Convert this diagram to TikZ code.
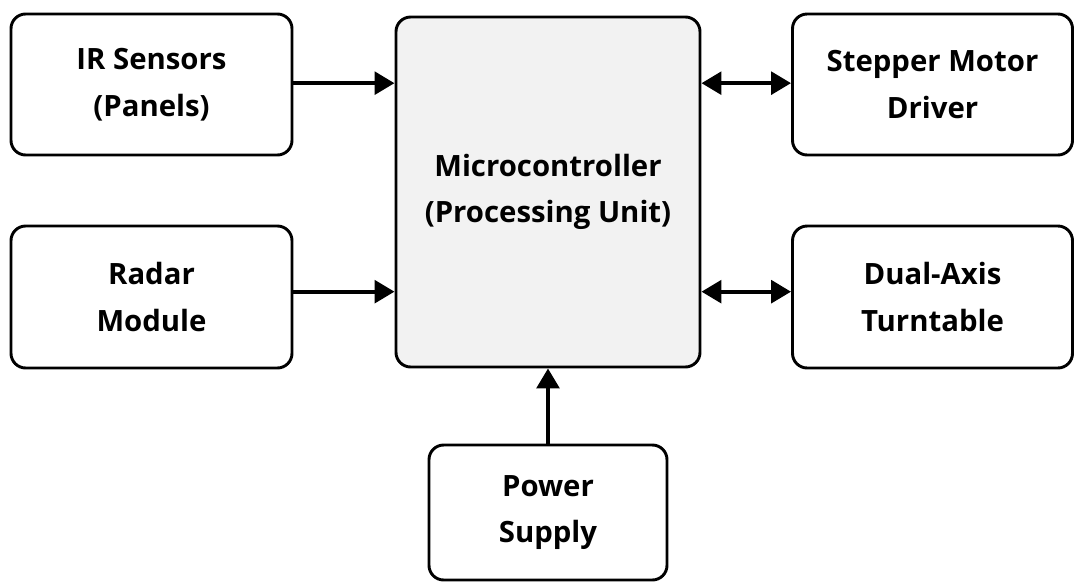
\documentclass[tikz,border=0pt]{standalone}
\usepackage{fontspec}
\setmainfont{Open Sans}
\usetikzlibrary{arrows.meta}
\begin{document}
\begin{tikzpicture}[x=0.75pt,y=-0.75pt,
  box/.style={draw=black,line width=2.2pt,rounded corners=11pt,fill=white,align=center,
    font=\fontsize{22}{35}\selectfont\bfseries,inner sep=0pt},
  arr/.style={line width=3pt,-{Triangle[length=15pt,width=17pt]}},
  darr/.style={line width=3pt,{Triangle[length=15pt,width=17pt]}-{Triangle[length=15pt,width=17pt]}}]
\useasboundingbox (0,0) rectangle (1074,583);
\node[box,minimum width=281*0.75pt,minimum height=141*0.75pt] (ir) at (151.5,84.5) {IR Sensors\\(Panels)};
\node[box,minimum width=281*0.75pt,minimum height=142*0.75pt] (radar) at (151.5,297) {Radar\\Module};
\node[box,fill={rgb,255:red,242;green,242;blue,242},minimum width=304*0.75pt,minimum height=350*0.75pt] (mcu) at (548,192) {Microcontroller\\(Processing Unit)};
\node[box,minimum width=280*0.75pt,minimum height=141*0.75pt] (step) at (932.5,84.5) {Stepper Motor\\Driver};
\node[box,minimum width=280*0.75pt,minimum height=142*0.75pt] (turn) at (932.5,297) {Dual-Axis\\Turntable};
\node[box,minimum width=238*0.75pt,minimum height=135*0.75pt] (pow) at (548,512.5) {Power\\Supply};
\draw[arr] ([yshift=1pt]ir.east) -- ([yshift=1pt]ir.east -| mcu.west);
\draw[arr] ([yshift=4pt]radar.east) -- ([yshift=4pt]radar.east -| mcu.west);
\draw[darr] ([yshift=1pt]step.west -| mcu.east) -- ([yshift=1pt]step.west);
\draw[darr] ([yshift=4pt]turn.west -| mcu.east) -- ([yshift=4pt]turn.west);
\draw[arr] (pow.north) -- (mcu.south);
\end{tikzpicture}
\end{document}
